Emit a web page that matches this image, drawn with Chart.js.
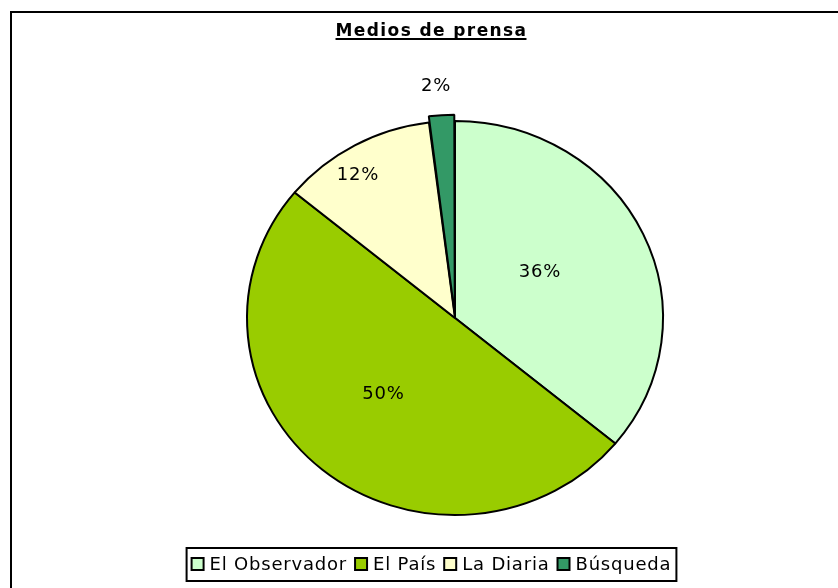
<!DOCTYPE html>
<html>
<head>
<meta charset="utf-8">
<script src="https://cdn.jsdelivr.net/npm/chart.js@4"></script>
<style>
  body { margin: 0; background: #fff; overflow: hidden; }
  #frame { position: absolute; left: 10px; top: 11px; width: 900px; height: 700px; border: 2px solid #000; }
  #myChart { position: absolute; left: 0; top: 0; }
</style>
</head>
<body>
<div id="frame"></div>
<canvas id="myChart" width="838" height="588"></canvas>
<script>
const chartTitle = 'Medios de prensa'
const medios = ['El Observador', 'El País', 'La Diaria', 'Búsqueda']
const porcentajes = [36, 50, 12, 2]
const colores = ['#CCFFCC', '#99CC00', '#FFFFCC', '#339966']
const offsets = [0, 0, 0, 14]
// label placement: fraction of radius and small angle nudge (degrees)
const labelRadius = [0.47, 0.52, 0.86, 1.18]
const labelNudge = [-4.6, 1.9, -4.1, -0.8]
// the original pie is a bit squashed vertically
const squashY = 197 / 208

const squash = {
  id: 'squash',
  beforeDatasetsDraw(chart) {
    const ctx = chart.ctx
    const a = chart.chartArea
    const cy = (a.top + a.bottom) / 2
    ctx.save()
    ctx.translate(0, cy)
    ctx.scale(1, squashY)
    ctx.translate(0, -cy)
  },
  afterDatasetsDraw(chart) {
    chart.ctx.restore()
  }
}

// percentage labels on the slices
const pctLabels = {
  id: 'pctLabels',
  afterDatasetsDraw(chart) {
    const ctx = chart.ctx
    const meta = chart.getDatasetMeta(0)
    ctx.save()
    ctx.font = '18px "DejaVu Sans"'
    ctx.letterSpacing = '0.8px'
    ctx.fillStyle = '#000'
    ctx.textAlign = 'center'
    ctx.textBaseline = 'middle'
    meta.data.forEach(function(arc, i) {
      const p = arc.getProps(['x', 'y', 'startAngle', 'endAngle', 'outerRadius'], true)
      const mid = (p.startAngle + p.endAngle) / 2 + labelNudge[i] * Math.PI / 180
      const r = p.outerRadius * labelRadius[i]
      ctx.fillText(porcentajes[i] + '%', p.x + Math.cos(mid) * r, p.y + Math.sin(mid) * r * squashY)
    })
    ctx.restore()
  }
}

// underlined title + boxed legend like the excel one
const titleAndLegend = {
  id: 'titleAndLegend',
  afterDraw(chart) {
    const ctx = chart.ctx
    const cx = 431.5
    ctx.save()
    ctx.fillStyle = '#000'
    ctx.font = 'bold 17px "DejaVu Sans"'
    ctx.letterSpacing = '1.4px'
    ctx.textBaseline = 'alphabetic'
    const tw = ctx.measureText(chartTitle).width
    ctx.fillText(chartTitle, cx - tw / 2, 36)
    ctx.fillRect(cx - tw / 2, 38, tw - 1, 2)

    ctx.font = '18px "DejaVu Sans"'
    ctx.letterSpacing = '0.8px'
    const box = 12, gapText = 6, gapItem = 8
    const widths = medios.map(m => ctx.measureText(m).width)
    let total = 0
    widths.forEach(function(w, i) { total += box + gapText + w + (i < widths.length - 1 ? gapItem : 0) })
    const pad = 5
    const left = cx - total / 2
    ctx.lineWidth = 2
    ctx.strokeStyle = '#000'
    ctx.strokeRect(left - pad, 548, total + pad * 2, 33)
    let x = left
    ctx.textBaseline = 'middle'
    medios.forEach(function(m, i) {
      ctx.fillStyle = colores[i]
      ctx.fillRect(x, 558, box, box)
      ctx.lineWidth = 2
      ctx.strokeRect(x, 558, box, box)
      ctx.fillStyle = '#000'
      ctx.fillText(m, x + box + gapText, 565)
      x += box + gapText + widths[i] + gapItem
    })
    ctx.restore()
  }
}

const data = {
  labels: medios,
  datasets: [{
    data: porcentajes,
    backgroundColor: colores,
    borderColor: '#000',
    borderWidth: 2,
    offset: offsets
  }]
}

const config = {
  type: 'pie',
  data: data,
  options: {
    responsive: false,
    animation: false,
    radius: 208,
    layout: { padding: { left: 72, right: 0, top: 48, bottom: 0 } },
    plugins: {
      legend: { display: false },
      title: { display: false },
      tooltip: { enabled: false }
    }
  },
  plugins: [squash, pctLabels, titleAndLegend]
}

const myChart = new Chart(document.getElementById('myChart'), config)
</script>
</body>
</html>
